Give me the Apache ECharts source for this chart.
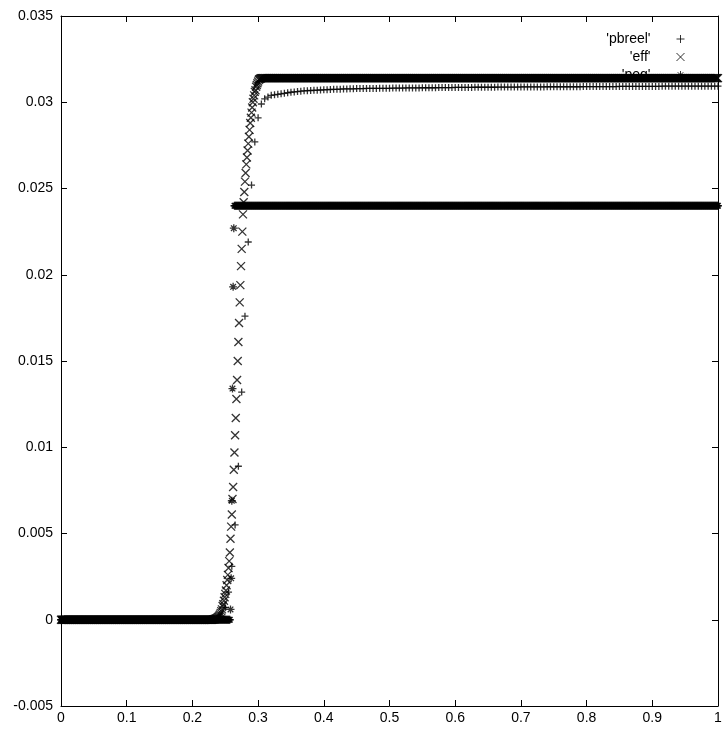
<!DOCTYPE html>
<html>
<head>
<meta charset="utf-8">
<script src="https://cdn.jsdelivr.net/npm/echarts/dist/echarts.min.js"></script>
<style>
  html, body { margin: 0; padding: 0; background: #fff; }
  #chart { width: 725px; height: 742px; }
</style>
</head>
<body>
<div id="chart"></div>
<script>
// ---- data ---------------------------------------------------------------

// Axis ranges and tick spacing
const xRange = [0, 1];
const xTickStep = 0.1;
const yRange = [-0.005, 0.035];
const yTickStep = 0.005;

// Series names as shown in the key
const seriesNames = ["'pbreel'", "'eff'", "'peq'"];

// 'pbreel' : sampled every 0.005 on [0, 1]
const pbreelStep = 0.005;
const pbreelY = [
  0, 0, 0, 0, 0, 0, 0, 0, 0, 0,
  0, 0, 0, 0, 0, 0, 0, 0, 0, 0,
  0, 0, 0, 0, 0, 0, 0, 0, 0, 0,
  0, 0, 0, 0, 0, 0, 0, 0, 0, 0,
  0, 0, 0, 0, 0, 0, 0, 0, 0,
  0.0002, 0.0007, 0.0016, 0.0031, 0.0055, 0.0089, 0.0132, 0.0176, 0.0219, 0.0252,
  0.0277, 0.0291, 0.0299, 0.0302, 0.0303, 0.0304, 0.03043, 0.03046, 0.03049, 0.03052,
  0.03055, 0.03058, 0.0306, 0.03062, 0.03064, 0.03066, 0.03067, 0.03068, 0.03069, 0.0307,
  0.03071, 0.03072, 0.03073, 0.03074, 0.03075, 0.03075, 0.03076, 0.03077, 0.03077, 0.03078,
  0.03078, 0.03079, 0.03079, 0.03079, 0.0308, 0.0308, 0.0308, 0.0308, 0.03081, 0.03081,
  0.03081, 0.03081, 0.03082, 0.03082, 0.03082, 0.03082, 0.03083, 0.03083, 0.03083, 0.03083,
  0.03083, 0.03084, 0.03084, 0.03084, 0.03084, 0.03084, 0.03085, 0.03085, 0.03085, 0.03085,
  0.03085, 0.03086, 0.03086, 0.03086, 0.03086, 0.03086, 0.03086, 0.03087, 0.03087, 0.03087,
  0.03087, 0.03087, 0.03087, 0.03087, 0.03088, 0.03088, 0.03088, 0.03088, 0.03088, 0.03088,
  0.03088, 0.03089, 0.03089, 0.03089, 0.03089, 0.03089, 0.03089, 0.03089, 0.03089, 0.0309,
  0.0309, 0.0309, 0.0309, 0.0309, 0.0309, 0.0309, 0.0309, 0.0309, 0.0309, 0.0309,
  0.03091, 0.03091, 0.03091, 0.03091, 0.03091, 0.03091, 0.03091, 0.03091, 0.03091, 0.03091,
  0.03091, 0.03092, 0.03092, 0.03092, 0.03092, 0.03092, 0.03092, 0.03092, 0.03092, 0.03092,
  0.03092, 0.03092, 0.03092, 0.03092, 0.03093, 0.03093, 0.03093, 0.03093, 0.03093, 0.03093,
  0.03093, 0.03093, 0.03093, 0.03093, 0.03093, 0.03093, 0.03093, 0.03093, 0.03093, 0.03093,
  0.03093, 0.03093
];

// 'eff' : sampled every 0.001 on [0, 1]; flat before and after the rise
const effStep = 0.001;
const effRiseFirstIndex = 231;          // x = 0.231
const effFlat = [0, 0.0314];            // level before / after the rise
const effRise = [
  0.00001, 0.00002, 0.00003, 0.00004, 0.00005, 0.00007, 0.00009, 0.00012, 0.00015, 0.00019,
  0.00024, 0.0003, 0.0004, 0.0005, 0.0006, 0.0008, 0.0009, 0.0011, 0.0013, 0.0015,
  0.0017, 0.0020, 0.0023, 0.0026, 0.0030, 0.0034, 0.0039, 0.0047, 0.0054, 0.0061,
  0.0070, 0.0077, 0.0087, 0.0097, 0.0107, 0.0117, 0.0128, 0.0139, 0.0150, 0.0161,
  0.0172, 0.0184, 0.0194, 0.0205, 0.0215, 0.0225, 0.0235, 0.0242, 0.0248, 0.0254,
  0.0259, 0.0264, 0.0268, 0.0272, 0.0276, 0.0280, 0.0284, 0.0288, 0.0291, 0.0294,
  0.0297, 0.0300, 0.0302, 0.0304, 0.0306, 0.0307, 0.0309, 0.0310, 0.0311, 0.0312,
  0.0313, 0.03133, 0.03136, 0.03138, 0.03139
];

// 'peq' : sampled every 0.001 on [0, 1]; a sharp jump near x = 0.26
const peqStep = 0.001;
const peqJumpFirstIndex = 258;          // x = 0.258
const peqFlat = [0, 0.024];
const peqJump = [0.0006, 0.0024, 0.0069, 0.0134, 0.0193, 0.0227];

// ---- build point lists --------------------------------------------------

function round(v, d) { return +v.toFixed(d); }

const pbreelData = pbreelY.map((y, i) => [round(i * pbreelStep, 3), y]);

function flatWithRise(step, firstIndex, flat, rise) {
  const n = Math.round((xRange[1] - xRange[0]) / step);
  const out = [];
  for (let i = 0; i <= n; i++) {
    const k = i - firstIndex;
    const y = k < 0 ? flat[0] : (k < rise.length ? rise[k] : flat[1]);
    out.push([round(xRange[0] + i * step, 3), y]);
  }
  return out;
}

const effData = flatWithRise(effStep, effRiseFirstIndex, effFlat, effRise);
const peqData = flatWithRise(peqStep, peqJumpFirstIndex, peqFlat, peqJump);

// ---- point glyphs: plus, cross, star (stroked paths) -----------------------

const plusPath  = 'path://M0 5L10 5M5 0L5 10';
const crossPath = 'path://M0 0L10 10M10 0L0 10';
const starPath  = 'path://M0 5L10 5M5 0L5 10M1.5 1.5L8.5 8.5M8.5 1.5L1.5 8.5';

const font = "'Liberation Sans', Arial, Helvetica, sans-serif";
const ink = '#000';

function strokeOnly(w) { return { color: 'none', borderColor: ink, borderWidth: w }; }

function pointSeries(name, data, symbol, size) {
  return {
    name: name,
    type: 'scatter',
    data: data,
    symbol: symbol,
    symbolSize: size,
    symbolKeepAspect: true,
    itemStyle: strokeOnly(1.3),
    emphasis: { disabled: true },
    silent: true,
    z: 2,
    xAxisIndex: 0,
    yAxisIndex: 0
  };
}

function axisCommon(range, step, fmtDigits) {
  return {
    type: 'value',
    min: range[0],
    max: range[1],
    interval: step,
    axisLine: { show: true, onZero: false, lineStyle: { color: ink, width: 1 } },
    axisTick: { show: true, inside: true, length: 6, lineStyle: { color: ink, width: 1 } },
    splitLine: { show: false },
    axisLabel: {
      show: true,
      color: ink,
      fontFamily: font,
      fontSize: 14,
      formatter: v => String(round(v, fmtDigits))
    }
  };
}

const xBottom = Object.assign(axisCommon(xRange, xTickStep, 1), { position: 'bottom' });
xBottom.axisLabel.margin = 5;
const xTop = Object.assign(axisCommon(xRange, xTickStep, 1), { position: 'top' });
xTop.axisLabel.show = false;

const yLeft = Object.assign(axisCommon(yRange, yTickStep, 3), { position: 'left' });
yLeft.axisLabel.margin = 8;
const yRight = Object.assign(axisCommon(yRange, yTickStep, 3), { position: 'right' });
yRight.axisLabel.show = false;

const chart = echarts.init(document.getElementById('chart'), null, { renderer: 'canvas' });

chart.setOption({
  animation: false,
  backgroundColor: '#fff',
  grid: { left: 61, right: 7, top: 16, bottom: 36, outerBoundsMode: 'none', containLabel: false },
  xAxis: [xBottom, xTop],
  yAxis: [yLeft, yRight],
  legend: {
    orient: 'vertical',
    align: 'right',
    right: 33,
    top: 27,
    padding: 5,
    itemWidth: 50,
    itemHeight: 8,
    itemGap: 4,
    selectedMode: false,
    z: 1,
    symbolKeepAspect: true,
    textStyle: { fontFamily: font, fontSize: 14, color: ink },
    itemStyle: strokeOnly(1),
    data: seriesNames
  },
  series: [
    pointSeries(seriesNames[0], pbreelData, plusPath, 7),
    pointSeries(seriesNames[1], effData, crossPath, 8),
    pointSeries(seriesNames[2], peqData, starPath, 8)
  ]
});
</script>
</body>
</html>
